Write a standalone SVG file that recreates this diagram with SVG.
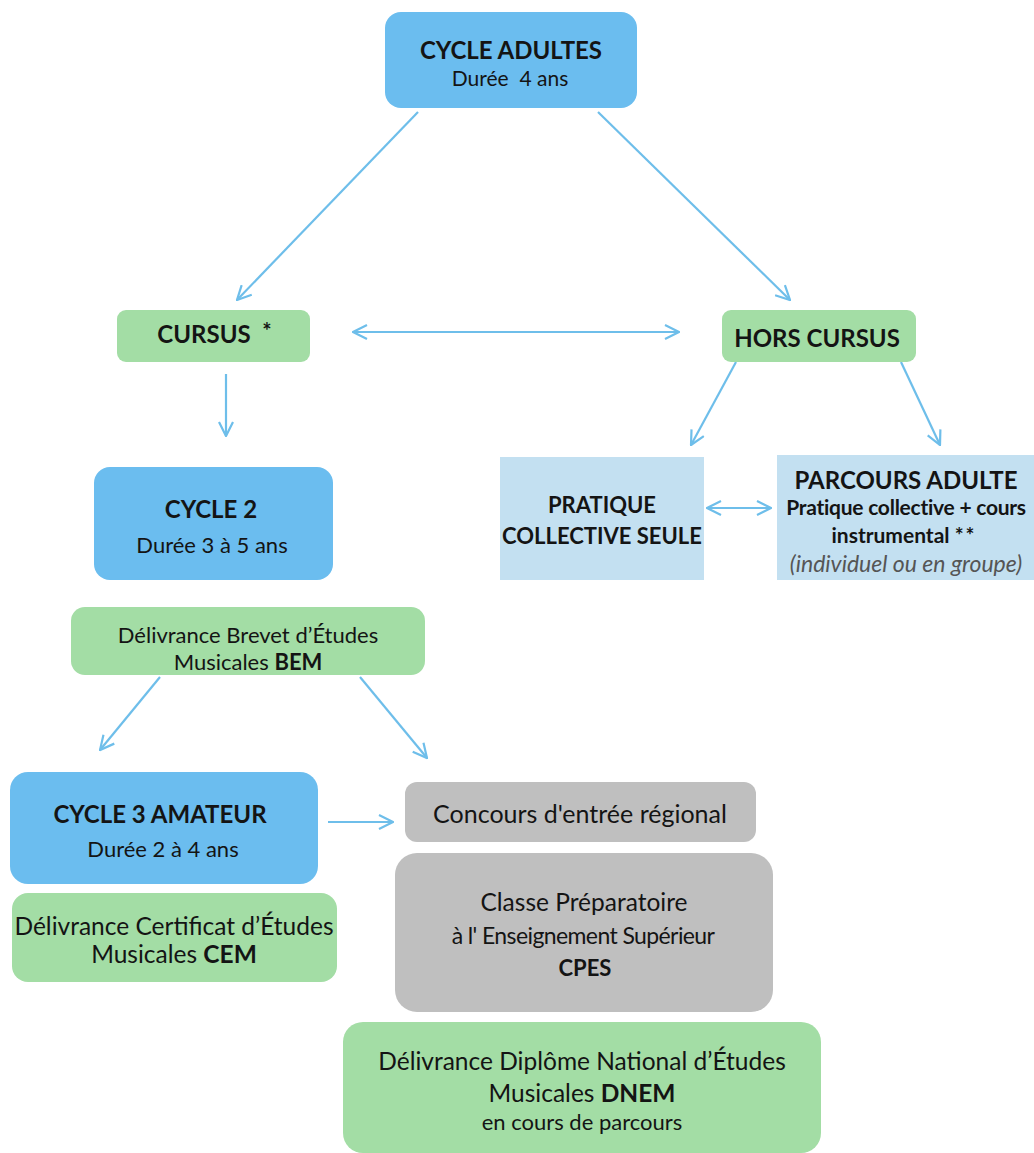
<svg xmlns="http://www.w3.org/2000/svg" width="1034" height="1153" viewBox="0 0 1034 1153">
<style>
text{font-family:Lato,"Liberation Sans",sans-serif;fill:#141414;text-anchor:middle}
.b{font-weight:bold}
.blue{fill:#6BBDEF}
.green{fill:#A3DDA5}
.lb{fill:#C3E0F1}
.gray{fill:#BFBFBF}
.c{stroke:#6EBEEA;stroke-width:2.2;fill:none}
</style>
<defs>
<marker id="ah" viewBox="0 0 16 16" refX="15" refY="8" markerWidth="16" markerHeight="16" markerUnits="userSpaceOnUse" orient="auto-start-reverse">
<path d="M1,1 L15,8 L1,15" fill="none" stroke="#6EBEEA" stroke-width="2.2"/>
</marker>
</defs>
<g id="connectors">
<line class="c" x1="418" y1="112" x2="237" y2="300" marker-end="url(#ah)"/>
<line class="c" x1="598" y1="112" x2="790" y2="300" marker-end="url(#ah)"/>
<line class="c" x1="353" y1="332" x2="679" y2="332" marker-start="url(#ah)" marker-end="url(#ah)"/>
<line class="c" x1="226" y1="374" x2="226" y2="436" marker-end="url(#ah)"/>
<line class="c" x1="736" y1="362" x2="691" y2="445" marker-end="url(#ah)"/>
<line class="c" x1="901" y1="362" x2="940" y2="445" marker-end="url(#ah)"/>
<line class="c" x1="707" y1="508" x2="771" y2="508" marker-start="url(#ah)" marker-end="url(#ah)"/>
<line class="c" x1="160" y1="677" x2="100" y2="750" marker-end="url(#ah)"/>
<line class="c" x1="360" y1="677" x2="427" y2="758" marker-end="url(#ah)"/>
<line class="c" x1="328" y1="822" x2="393" y2="822" marker-end="url(#ah)"/>
</g>
<g id="cycle-adultes">
<rect class="blue" x="385" y="12" width="252" height="96" rx="16"/>
<text class="b" x="511" y="59" font-size="24">CYCLE ADULTES</text>
<text x="510" y="86" font-size="21" xml:space="preserve">Durée  4 ans</text>
</g>
<g id="cursus">
<rect class="green" x="117" y="310" width="193" height="52" rx="9"/>
<text class="b" x="204" y="343" font-size="24">CURSUS</text>
<text class="b" x="267" y="339" font-size="22">*</text>
</g>
<g id="hors-cursus">
<rect class="green" x="722" y="310" width="194" height="52" rx="9"/>
<text class="b" x="817" y="347" font-size="24">HORS CURSUS</text>
</g>
<g id="pratique">
<rect class="lb" x="500" y="457" width="204" height="123"/>
<text class="b" x="602" y="513" font-size="22">PRATIQUE</text>
<text class="b" x="602" y="544" font-size="22">COLLECTIVE SEULE</text>
</g>
<g id="parcours-adulte">
<rect class="lb" x="777" y="455" width="257" height="125"/>
<text class="b" x="906" y="489" font-size="24">PARCOURS ADULTE</text>
<text class="b" x="906" y="515" font-size="21" letter-spacing="-0.25">Pratique collective + cours</text>
<text class="b" x="904" y="543" font-size="21">instrumental <tspan letter-spacing="2">**</tspan></text>
<text x="906" y="572" font-size="23" font-style="italic" style="fill:#555">(individuel ou en groupe)</text>
</g>
<g id="cycle2">
<rect class="blue" x="94" y="467" width="239" height="113" rx="16"/>
<text class="b" x="211" y="518" font-size="24">CYCLE 2</text>
<text x="212" y="553" font-size="22">Durée 3 à 5 ans</text>
</g>
<g id="bem">
<rect class="green" x="71" y="607" width="354" height="68" rx="14"/>
<text x="248" y="643" font-size="22">Délivrance Brevet d’Études</text>
<text x="248" y="670" font-size="22">Musicales <tspan class="b">BEM</tspan></text>
</g>
<g id="cycle3">
<rect class="blue" x="10" y="772" width="308" height="112" rx="18"/>
<text class="b" x="160" y="823" font-size="24">CYCLE 3 AMATEUR</text>
<text x="163" y="857" font-size="22">Durée 2 à 4 ans</text>
</g>
<g id="cem">
<rect class="green" x="12" y="893" width="325" height="89" rx="16"/>
<text x="174" y="935" font-size="24.5">Délivrance Certificat d’Études</text>
<text x="174" y="963" font-size="24.5">Musicales <tspan class="b">CEM</tspan></text>
</g>
<g id="concours">
<rect class="gray" x="405" y="782" width="351" height="60" rx="12"/>
<text x="580" y="823" font-size="25">Concours d'entrée régional</text>
</g>
<g id="cpes">
<rect class="gray" x="395" y="853" width="378" height="159" rx="22"/>
<text x="584" y="911" font-size="24.5">Classe Préparatoire</text>
<text x="583" y="944" font-size="23" letter-spacing="-0.6">à l' Enseignement Supérieur</text>
<text class="b" x="585" y="976" font-size="22">CPES</text>
</g>
<g id="dnem">
<rect class="green" x="343" y="1022" width="478" height="131" rx="20"/>
<text x="582" y="1070" font-size="24.5">Délivrance Diplôme National d’Études</text>
<text x="582" y="1102" font-size="24.5">Musicales <tspan class="b">DNEM</tspan></text>
<text x="582" y="1130" font-size="22">en cours de parcours</text>
</g>
</svg>
